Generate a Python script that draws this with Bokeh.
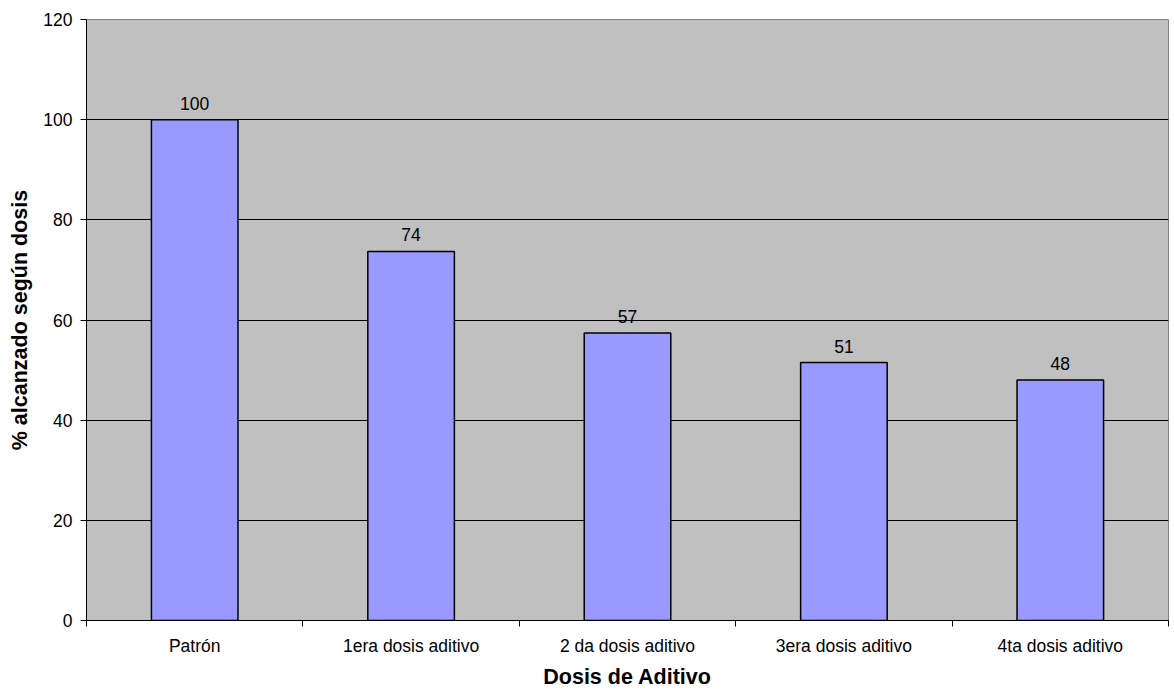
from bokeh.plotting import figure
from bokeh.models import ColumnDataSource, FixedTicker, Range1d, LabelSet
from bokeh.core.properties import value
from bokeh.embed import file_html
from bokeh.resources import INLINE

categories = ["Patrón", "1era dosis aditivo", "2 da dosis aditivo", "3era dosis aditivo", "4ta dosis aditivo"]
values = [100, 73.7, 57.4, 51.5, 48.0]
labels = ["100", "74", "57", "51", "48"]
y_ticks = [0, 20, 40, 60, 80, 100, 120]

xpos = [i + 0.5 for i in range(len(categories))]
src = ColumnDataSource(dict(x=xpos, top=values, lab=labels))

FONT = "Liberation Sans"
TICK_FS = "17.5px"
TITLE_FS = "21.5px"

p = figure(width=1174, height=691, output_backend="svg", toolbar_location=None,
           x_range=Range1d(0, len(categories)), y_range=Range1d(0, 120),
           min_border_left=86, min_border_right=6, min_border_top=19, min_border_bottom=71)
p.background_fill_color = "#C0C0C0"
p.border_fill_color = "white"
p.outline_line_color = "#808080"

p.vbar(x="x", top="top", width=0.4, bottom=0, source=src,
       fill_color="#9999FF", line_color="black", line_width=1.5)

p.add_layout(LabelSet(x="x", y="top", text="lab", source=src, text_align="center",
                      text_baseline="bottom", y_offset=10, text_font=value(FONT),
                      text_font_size=value(TICK_FS), text_color="black"))

# x axis
p.xaxis.ticker = FixedTicker(ticks=xpos, minor_ticks=list(range(len(categories) + 1)))
p.xaxis.major_label_overrides = {x: c for x, c in zip(xpos, categories)}
p.xaxis.major_tick_out = 0
p.xaxis.major_tick_in = 0
p.xaxis.minor_tick_out = 6
p.xaxis.minor_tick_in = 0
p.xaxis.minor_tick_line_color = "black"
p.xaxis.axis_line_color = "black"
p.xaxis.major_label_text_font = FONT
p.xaxis.major_label_text_font_size = TICK_FS
p.xaxis.major_label_text_color = "black"
p.xaxis.major_label_standoff = 9
p.xaxis.axis_label = "Dosis de Aditivo"
p.xaxis.axis_label_text_font = FONT
p.xaxis.axis_label_text_font_size = TITLE_FS
p.xaxis.axis_label_text_font_style = "bold"
p.xaxis.axis_label_text_color = "black"
p.xaxis.axis_label_standoff = 6

# y axis
p.yaxis.ticker = FixedTicker(ticks=y_ticks, minor_ticks=[])
p.yaxis.major_tick_out = 6
p.yaxis.major_tick_in = 0
p.yaxis.major_tick_line_color = "black"
p.yaxis.axis_line_color = "black"
p.yaxis.major_label_text_font = FONT
p.yaxis.major_label_text_font_size = TICK_FS
p.yaxis.major_label_text_color = "black"
p.yaxis.major_label_standoff = 8
p.yaxis.axis_label = "% alcanzado según dosis"
p.yaxis.axis_label_text_font = FONT
p.yaxis.axis_label_text_font_size = TITLE_FS
p.yaxis.axis_label_text_font_style = "bold"
p.yaxis.axis_label_text_color = "black"
p.yaxis.axis_label_standoff = 8

p.xgrid.grid_line_color = None
p.ygrid.ticker = FixedTicker(ticks=[20, 40, 60, 80, 100])
p.ygrid.grid_line_color = "black"
p.ygrid.grid_line_width = 1

open("out.html", "w").write(file_html(p, INLINE))
